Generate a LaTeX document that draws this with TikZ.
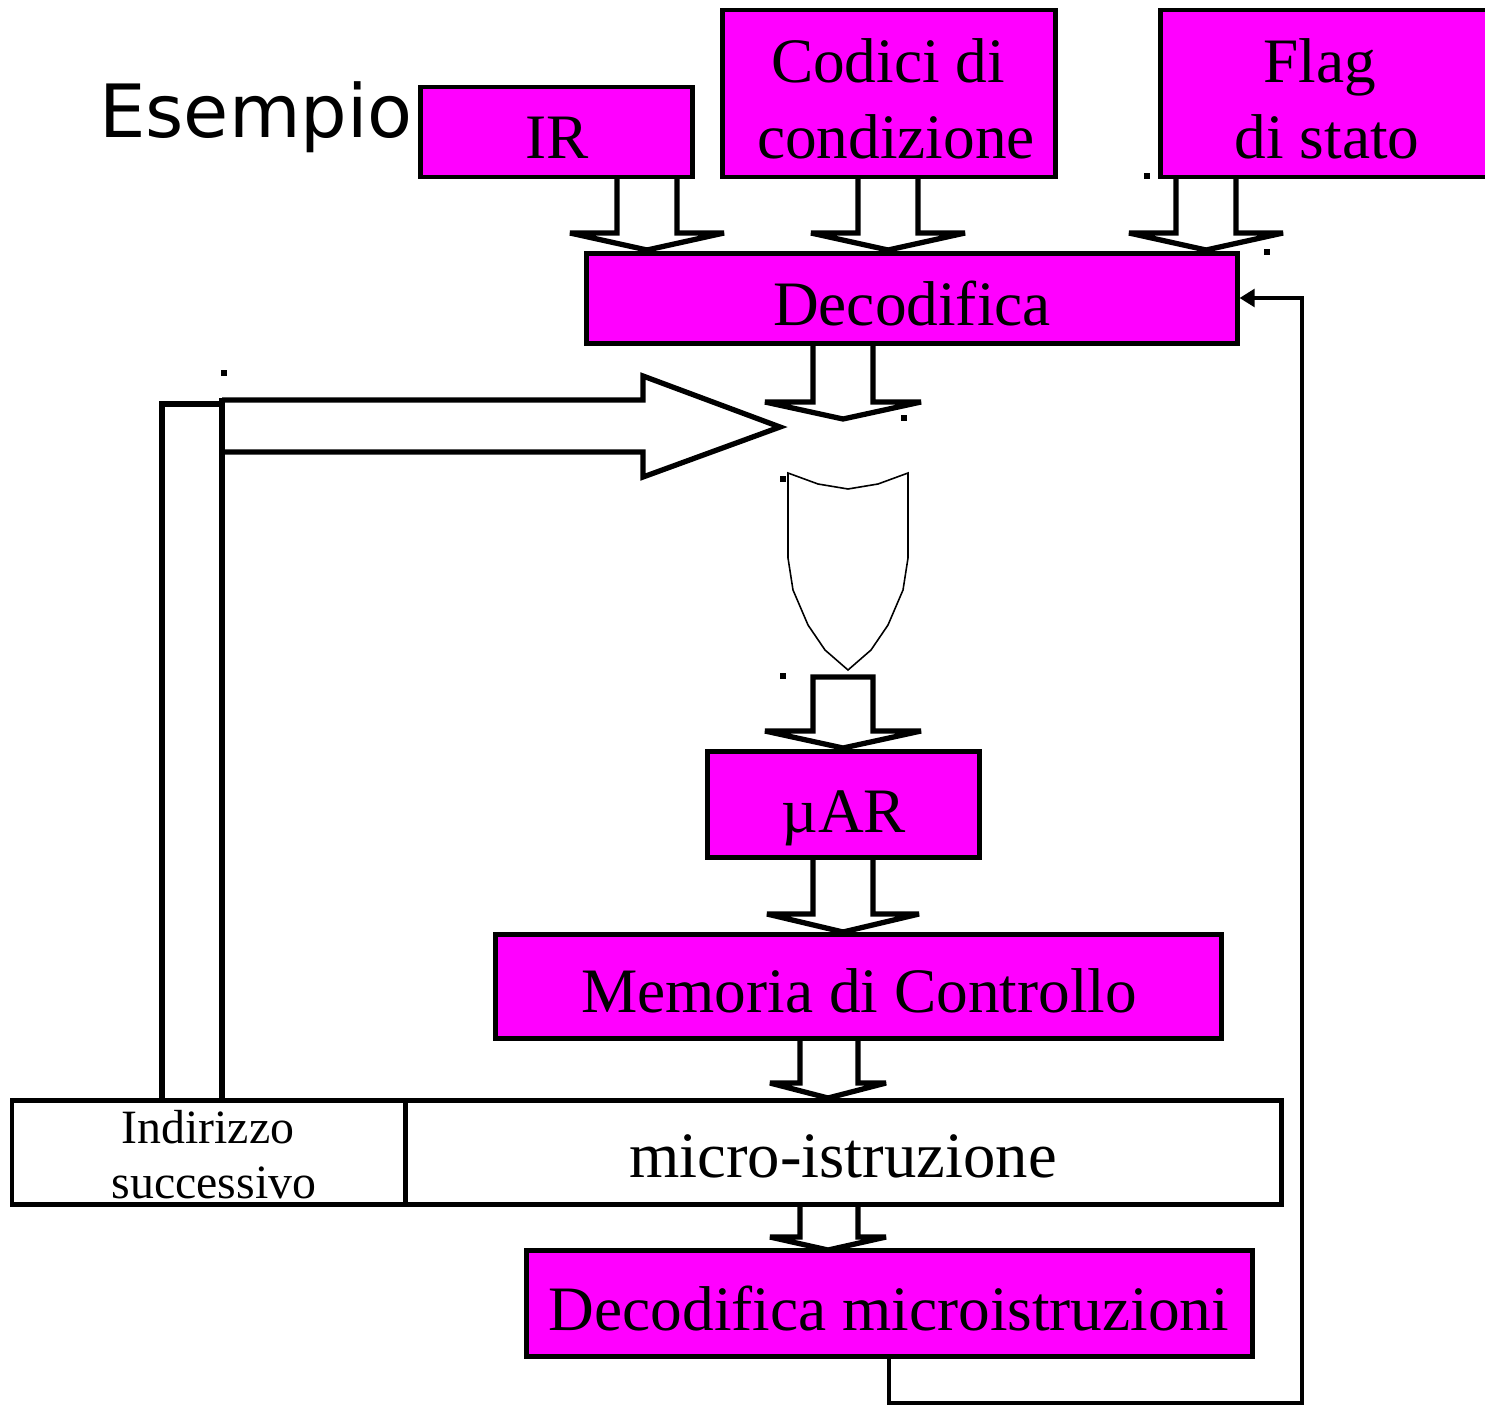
\documentclass[tikz,border=0pt]{standalone}
\usepackage{fontspec}
\setmainfont{Liberation Serif}
\newfontfamily\esfont{DejaVu Sans}
\usetikzlibrary{arrows.meta,fit}
\definecolor{mag}{RGB}{255,0,255}
\begin{document}
\begin{tikzpicture}[x=0.01cm,y=-0.01cm,
  box/.style={draw=black,line width=1.42pt,fill=mag,inner sep=0pt},
  wbox/.style={draw=black,line width=1.42pt,fill=white,inner sep=0pt},
  txt/.style={inner sep=0pt,anchor=base,font=\fontsize{18pt}{21.6pt}\selectfont},
  bigtxt/.style={inner sep=0pt,anchor=base,font=\fontsize{18.4pt}{23pt}\selectfont},
  smalltxt/.style={inner sep=0pt,anchor=base,font=\fontsize{13.6pt}{16pt}\selectfont},
  titletxt/.style={inner sep=0pt,anchor=base,font=\esfont\fontsize{20.9pt}{25pt}\selectfont},
  barrow/.style={draw=black,line width=1.5pt,fill=white,line join=miter,miter limit=3},
  wire/.style={draw=black,line width=1.45pt},
  fbline/.style={draw=black,line width=1.15pt,-{Triangle[length=4.3pt,width=5pt]}},
  muxshape/.style={draw=black,line width=0.45pt,fill=white,line join=miter},
  dot/.style={fill=black}]
\path[use as bounding box] (0,0) rectangle (1485,1406);
\begin{scope}
\clip (0,0) rectangle (1485,1406);
% block arrows (drawn before the boxes)
\draw[barrow] (617,177) -- (617,233) -- (570,233) -- (647,250) -- (724,233) -- (677,233) -- (677,177);
\draw[barrow] (858,177) -- (858,233) -- (811,233) -- (888,250) -- (965,233) -- (918,233) -- (918,177);
\draw[barrow] (1176,177) -- (1176,233) -- (1129,233) -- (1206,250) -- (1283,233) -- (1236,233) -- (1236,177);
\draw[barrow] (813,343) -- (813,402) -- (765,402) -- (843,419) -- (921,402) -- (873,402) -- (873,343);
\draw[barrow] (813,677) -- (813,731) -- (765,731) -- (843,748) -- (921,731) -- (873,731) -- (873,677) -- cycle;
\draw[barrow] (813,857) -- (813,914) -- (767,914) -- (843,932) -- (919,914) -- (873,914) -- (873,857);
\draw[barrow] (800,1038) -- (800,1083) -- (770,1083) -- (828,1098) -- (886,1083) -- (858,1083) -- (858,1038);
\draw[barrow] (800,1204) -- (800,1237) -- (770,1237) -- (828,1250) -- (886,1237) -- (858,1237) -- (858,1204);
% big right arrow and next-address bus
\draw[barrow] (222,400) -- (643,400) -- (643,376) -- (780,427) -- (643,477) -- (643,452) -- (222,452);
\draw[wire] (162,1100) -- (162,404) -- (222,404);
\draw[wire] (222,1100) -- (222,398);
% multiplexer
\draw[muxshape] (788,473) -- (818,484) -- (848,489) -- (878,484) -- (908,473) -- (908,558) -- (903,590) -- (888,625) -- (871,650) -- (848,670) -- (825,650) -- (808,625) -- (793,590) -- (788,558) -- cycle;
% boxes
\node[box,fit={(420,87)(692,177)}] (ir) {};
\node[box,fit={(722,10)(1055,177)}] (cc) {};
\node[box,fit={(1160,10)(1498,177)}] (fl) {};
\node[box,fit={(586,253)(1237,343)}] (dec) {};
\node[box,fit={(707,751)(979,857)}] (uar) {};
\node[box,fit={(495,934)(1221,1038)}] (mem) {};
\node[wbox,fit={(12,1100)(405,1204)}] (ind) {};
\node[wbox,fit={(405,1100)(1281,1204)}] (mi) {};
\node[box,fit={(526,1250)(1252,1356)}] (dmi) {};
% texts
\node[titletxt] (es) at (256,137) {Esempio};
\node[txt] (irt) at (557,158) {IR};
\node[txt] (cct1) at (888,82) {Codici di};
\node[txt] (cct2) at (896,158) {condizione};
\node[txt] (flt1) at (1320,82) {Flag};
\node[txt] (flt2) at (1327,158) {di stato};
\node[txt] (dect) at (912,325) {Decodifica};
\node[txt] (uart) at (844,832) {µAR};
\node[txt] (memt) at (859,1012) {Memoria di Controllo};
\node[bigtxt] (mit) at (843,1177) {micro-istruzione};
\node[smalltxt] (indt1) at (208,1143) {Indirizzo};
\node[smalltxt] (indt2) at (214,1198) {successivo};
\node[txt] (dmit) at (889,1330) {Decodifica microistruzioni};
% feedback
\coordinate (fbc) at (1302,1403);
\draw[fbline] (dmi.south) -- (dmi.south |- fbc) -- (fbc) |- (dec.east);
% small dots
\foreach \p in {(224,373),(904,418),(783,479),(783,676),(1147,176),(1267,252)}
  \fill[dot] \p ++(-3,-3) rectangle ++(6,6);
\end{scope}
\end{tikzpicture}
\end{document}
